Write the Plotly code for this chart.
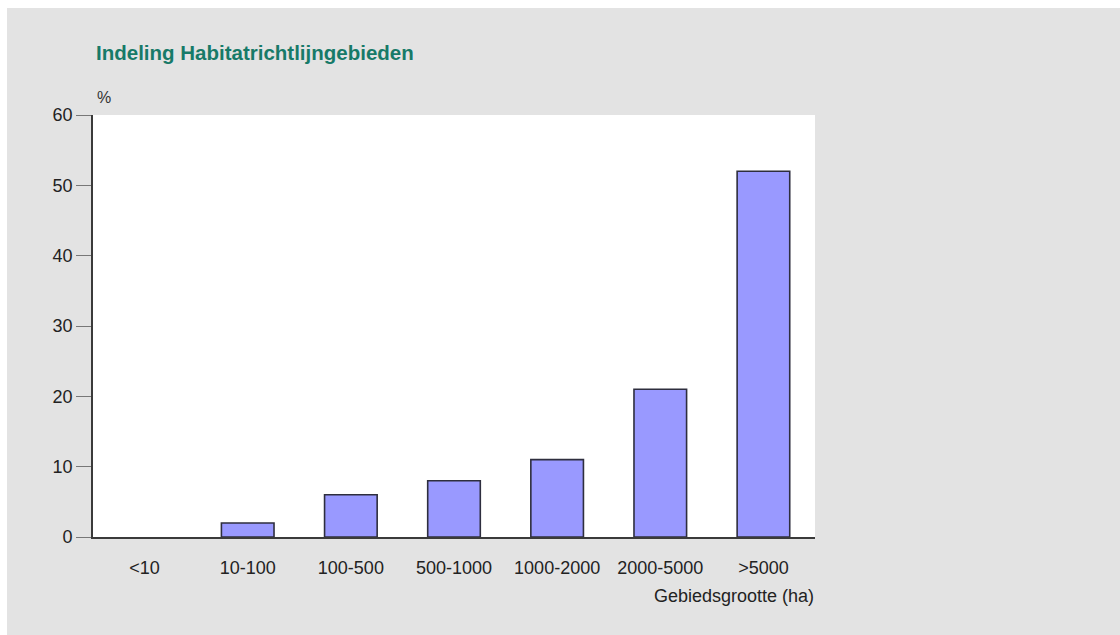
import plotly.graph_objects as go

# Area-size classes (ha) and share of sites (%)
categories = ["<10", "10-100", "100-500", "500-1000", "1000-2000", "2000-5000", ">5000"]
percentages = [0, 2, 6, 8, 11, 21, 52]
y_ticks = [0, 10, 20, 30, 40, 50, 60]

W, H = 1120, 635
L, R, T, B = 93, 305, 115, 98
PW, PH = W - L - R, H - T - B

FONT = "Liberation Sans, Arial, sans-serif"
GRAY = "#e3e3e3"
TEXT = "#222222"


def px_x(x):
    return (x - L) / PW


def px_y(y):
    return (H - B - y) / PH


# empty bars get no outline so nothing is drawn on the baseline
outline_widths = [0 if v == 0 else 1.6 for v in percentages]

fig = go.Figure(
    go.Bar(
        x=categories,
        y=percentages,
        width=0.51,
        marker=dict(color="#9999ff", line=dict(color="#2e2e3e", width=outline_widths)),
        hoverinfo="x+y",
    )
)

fig.update_layout(
    width=W,
    height=H,
    margin=dict(l=L, r=R, t=T, b=B, pad=0, autoexpand=False),
    paper_bgcolor=GRAY,
    plot_bgcolor="white",
    showlegend=False,
    font=dict(family=FONT, size=18, color=TEXT),
    xaxis=dict(
        type="category",
        range=[-0.5, 6.5],
        showline=True,
        linecolor="#3a3a3a",
        linewidth=1.8,
        showgrid=False,
        ticks="outside",
        ticklen=13,
        tickcolor="rgba(0,0,0,0)",
        tickangle=0,
        automargin=False,
        tickfont=dict(family=FONT, size=18, color=TEXT),
        fixedrange=True,
    ),
    yaxis=dict(
        range=[0, 60],
        tickvals=y_ticks,
        showline=True,
        linecolor="#3a3a3a",
        linewidth=1.8,
        showgrid=False,
        zeroline=False,
        ticks="outside",
        ticklen=15,
        tickwidth=1.4,
        tickcolor="#777777",
        automargin=False,
        tickfont=dict(family=FONT, size=18, color=TEXT),
        fixedrange=True,
    ),
    shapes=[
        # white frame strips along the top and left edges
        dict(type="rect", xref="paper", yref="paper", layer="below",
             x0=px_x(0), x1=px_x(W), y0=px_y(8), y1=px_y(0),
             fillcolor="white", line=dict(width=0)),
        dict(type="rect", xref="paper", yref="paper", layer="below",
             x0=px_x(0), x1=px_x(7), y0=px_y(H), y1=px_y(0),
             fillcolor="white", line=dict(width=0)),
    ],
    annotations=[
        dict(text="<b>Indeling Habitatrichtlijngebieden</b>", xref="paper", yref="paper",
             x=px_x(94), y=px_y(53), xanchor="left", yanchor="middle", showarrow=False,
             font=dict(family=FONT, size=20.5, color="#177a68")),
        dict(text="%", xref="paper", yref="paper",
             x=px_x(95), y=px_y(98), xanchor="left", yanchor="middle", showarrow=False,
             font=dict(family=FONT, size=16, color="#333333")),
        dict(text="Gebiedsgrootte (ha)", xref="paper", yref="paper",
             x=px_x(816), y=px_y(596), xanchor="right", yanchor="middle", showarrow=False,
             font=dict(family=FONT, size=18, color=TEXT)),
    ],
)

fig.write_html("out.html")
